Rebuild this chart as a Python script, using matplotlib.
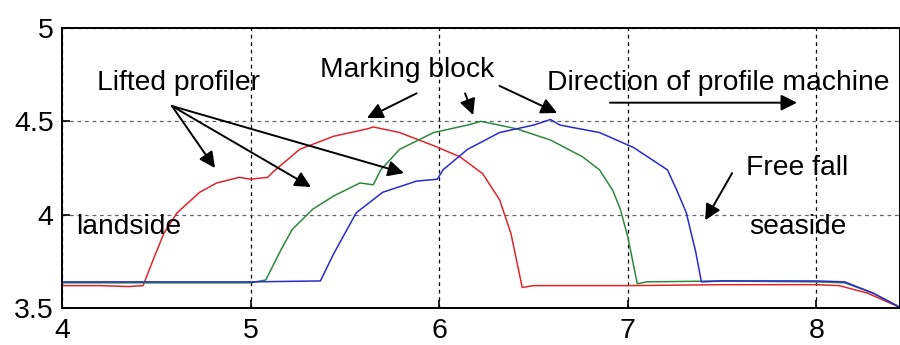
import numpy as np
import matplotlib
matplotlib.use("Agg")
import matplotlib.pyplot as plt

plt.rcParams['font.family'] = ['Liberation Sans', 'DejaVu Sans']

# red run (profiler lifted earliest)
red_x = [4.0, 4.2, 4.35, 4.43, 4.48, 4.54, 4.61, 4.73, 4.82, 4.94, 5.0, 5.09, 5.12,
         5.26, 5.44, 5.62, 5.65, 5.79, 5.97, 6.11, 6.23, 6.32, 6.38, 6.44, 6.5,
         7.0, 7.5, 8.0, 8.12, 8.27, 8.45]
red_y = [3.62, 3.62, 3.615, 3.62, 3.75, 3.90, 4.01, 4.12, 4.17, 4.20, 4.19, 4.20, 4.23,
         4.35, 4.42, 4.46, 4.47, 4.44, 4.37, 4.31, 4.22, 4.08, 3.90, 3.61, 3.62,
         3.62, 3.625, 3.625, 3.62, 3.58, 3.5]

green_x = [4.0, 4.5, 5.0, 5.08, 5.16, 5.22, 5.33, 5.44, 5.58, 5.65, 5.69, 5.79, 5.97,
           6.15, 6.22, 6.27, 6.41, 6.59, 6.76, 6.85, 6.92, 6.96, 7.0, 7.05, 7.1,
           7.5, 8.0, 8.15, 8.3, 8.45]
green_y = [3.635, 3.635, 3.635, 3.65, 3.81, 3.92, 4.03, 4.10, 4.17, 4.16, 4.24, 4.35, 4.44,
           4.48, 4.50, 4.49, 4.46, 4.40, 4.31, 4.24, 4.13, 4.03, 3.88, 3.63, 3.64,
           3.645, 3.64, 3.635, 3.58, 3.5]

blue_x = [4.0, 5.0, 5.37, 5.44, 5.56, 5.70, 5.79, 5.88, 5.99, 6.02, 6.15, 6.32, 6.50,
          6.59, 6.64, 6.85, 7.03, 7.15, 7.21, 7.26, 7.31, 7.36, 7.39, 7.5, 8.0,
          8.15, 8.3, 8.45]
blue_y = [3.64, 3.64, 3.645, 3.79, 4.01, 4.12, 4.15, 4.18, 4.19, 4.24, 4.35, 4.44, 4.48,
          4.51, 4.48, 4.44, 4.36, 4.28, 4.24, 4.13, 4.01, 3.80, 3.64, 3.645, 3.645,
          3.64, 3.58, 3.5]

fig = plt.figure(figsize=(9, 3.45), dpi=100)
ax = fig.add_axes([0.0689, 0.1072, 0.9311, 0.8116])

ax.plot(red_x, red_y, color='#e0262c', lw=1.1)
ax.plot(green_x, green_y, color='#2d8a3e', lw=1.1)
ax.plot(blue_x, blue_y, color='#2a2ad0', lw=1.1)

ax.set_xlim(4, 8.443)
ax.set_ylim(3.5, 5)
ax.set_xticks([4, 5, 6, 7, 8])
ax.set_yticks([3.5, 4, 4.5, 5])
ax.set_yticklabels(['3.5', '4', '4.5', '5'])
ax.tick_params(direction='in', length=6, width=1.2, labelsize=20.5)
ax.tick_params(axis='x', pad=7)
ax.tick_params(axis='y', pad=6)
for s in ax.spines.values():
    s.set_linewidth(1.4)

ax.xaxis.grid(True, linestyle=(0, (3, 3)), color='k', lw=0.9)
ax.yaxis.grid(True, linestyle=(0, (3, 3)), color='#666666', lw=0.9)
ax.set_axisbelow(True)

fs = 20.3
ap = dict(arrowstyle='-|>', color='k', lw=1.4, mutation_scale=24, shrinkA=0, shrinkB=0)

ax.text(4.615, 4.705, 'Lifted profiler', fontsize=fs, ha='center', va='center')
for tip in [(4.811, 4.25), (5.32, 4.148), (5.813, 4.223)]:
    ax.annotate('', xy=tip, xytext=(4.583, 4.582), arrowprops=ap)

ax.text(5.83, 4.775, 'Marking block', fontsize=fs, ha='center', va='center')
ax.annotate('', xy=(5.617, 4.518), xytext=(5.88, 4.65), arrowprops=ap)
ax.annotate('', xy=(6.18, 4.534), xytext=(6.137, 4.65), arrowprops=ap)
ax.annotate('', xy=(6.625, 4.545), xytext=(6.32, 4.69), arrowprops=ap)

ax.text(7.48, 4.705, 'Direction of profile machine', fontsize=fs, ha='center', va='center')
ax.annotate('', xy=(7.897, 4.60), xytext=(6.905, 4.60), arrowprops=ap)

ax.text(7.90, 4.25, 'Free fall', fontsize=fs, ha='center', va='center')
ax.annotate('', xy=(7.41, 3.97), xytext=(7.553, 4.223), arrowprops=ap)

ax.text(4.355, 3.934, 'landside', fontsize=fs, ha='center', va='center')
ax.text(7.90, 3.934, 'seaside', fontsize=fs, ha='center', va='center')

plt.savefig('out.png', dpi=100)
